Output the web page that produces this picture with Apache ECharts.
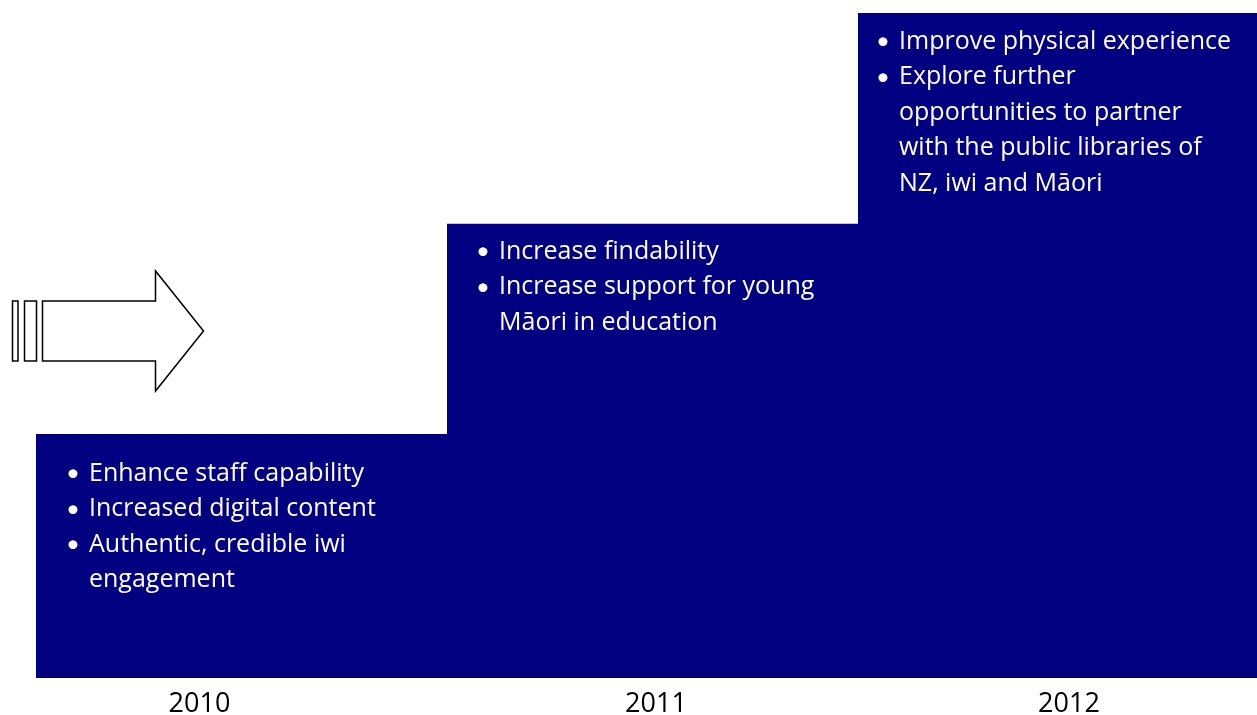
<!DOCTYPE html>
<html>
<head>
<meta charset="utf-8">
<style>
  html, body { margin: 0; padding: 0; background: #fff; }
  #chart { width: 1257px; height: 715px; }
</style>
</head>
<body>
<div id="chart"></div>
<script src="https://cdn.jsdelivr.net/npm/echarts@6/dist/echarts.min.js"></script>
<script>
// years on the x axis and the height of each step
var years = ['2010', '2011', '2012'];
var levels = [36.7, 68.3, 100];

// bullet points per year, already split into lines
var goals2010 = [
  ['Enhance staff capability'],
  ['Increased digital content'],
  ['Authentic, credible iwi', 'engagement']
];
var goals2011 = [
  ['Increase findability'],
  ['Increase support for young', 'Māori in education']
];
var goals2012 = [
  ['Improve physical experience'],
  ['Explore further', 'opportunities to partner', 'with the public libraries of', 'NZ, iwi and Māori']
];
var goals = [goals2010, goals2011, goals2012];

// where the text block sits inside each bar
var textPos = [[30, 22], [29, 10], [18, 11]];

function bulletText(items) {
  var out = [];
  items.forEach(function (lines) {
    lines.forEach(function (l, i) {
      out.push((i === 0 ? '{b|•}' : '{b| }') + '{t|' + l + '}');
    });
  });
  return out.join('\n');
}

var font = '"Open Sans", Lato, sans-serif';

var data = levels.map(function (v, i) {
  return {
    value: v,
    label: {
      show: true,
      position: textPos[i],
      align: 'left',
      verticalAlign: 'top',
      formatter: bulletText(goals[i]),
      rich: {
        b: { width: 23, color: '#fff', fontSize: 24, fontFamily: 'Lato', lineHeight: 35.5 },
        t: { color: '#fff', fontSize: 25, fontFamily: font, lineHeight: 35.5 }
      }
    }
  };
});

var chart = echarts.init(document.getElementById('chart'));
chart.setOption({
  animation: false,
  grid: { left: 36, top: 13, width: 1233, height: 665, outerBoundsMode: 'none' },
  xAxis: {
    type: 'category',
    data: years,
    axisLine: { show: false },
    axisTick: { show: false },
    axisLabel: {
      margin: 13,
      color: '#000',
      fontSize: 27,
      fontFamily: font,
      formatter: function (v, i) { return '{y' + i + '|' + v + '}'; },
      rich: {
        y0: { padding: [0, 84, 0, 0], fontSize: 27, fontFamily: font },
        y1: { padding: [0, 0, 0, 7], fontSize: 27, fontFamily: font },
        y2: { padding: [0, 0, 0, 11], fontSize: 27, fontFamily: font }
      }
    }
  },
  yAxis: {
    type: 'value',
    min: 0,
    max: 100,
    show: false
  },
  series: [{
    type: 'bar',
    barWidth: '100%',
    itemStyle: { color: '#000080' },
    data: data
  }],
  graphic: [
    { type: 'rect', shape: { x: 12.5, y: 301, width: 5.5, height: 60 }, style: { fill: '#fff', stroke: '#000', lineWidth: 1.5 } },
    { type: 'rect', shape: { x: 24.5, y: 301, width: 12, height: 60 }, style: { fill: '#fff', stroke: '#000', lineWidth: 1.5 } },
    {
      type: 'polygon',
      shape: { points: [[42.5, 301], [155.5, 301], [155.5, 271], [203.5, 331], [155.5, 391], [155.5, 361], [42.5, 361]] },
      style: { fill: '#fff', stroke: '#000', lineWidth: 1.5 }
    }
  ]
});
</script>
</body>
</html>
